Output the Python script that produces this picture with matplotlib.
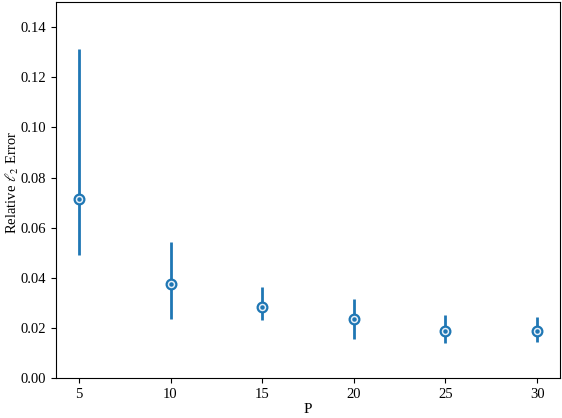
import matplotlib
import matplotlib.pyplot as plt
import numpy as np

matplotlib.use("Agg")

plt.rcParams["font.family"] = ["Liberation Serif", "DejaVu Serif"]
plt.rcParams["mathtext.fontset"] = "stix"

P = [5, 10, 15, 20, 25, 30]
err_mean = [0.0714, 0.0375, 0.0284, 0.0234, 0.0186, 0.0186]
err_low = [0.0491, 0.0235, 0.0231, 0.0154, 0.0141, 0.0144]
err_high = [0.1311, 0.0542, 0.0364, 0.0314, 0.0250, 0.0242]

BLUE = "#1f77b4"

mean = np.array(err_mean)
yerr = [mean - np.array(err_low), np.array(err_high) - mean]

fig, ax = plt.subplots(figsize=(5.62, 4.18), dpi=100)
fig.subplots_adjust(left=0.0996, right=0.9964, top=0.995, bottom=0.0957)

ax.errorbar(P, mean, yerr=yerr, fmt="none", ecolor=BLUE, elinewidth=2)
# ring marker with a dot in the middle
ax.plot(P, mean, "o", color=BLUE, mfc="#e8f0f8", markersize=7,
        markeredgewidth=1.6, zorder=3)
ax.plot(P, mean, "o", color=BLUE, markersize=2.2, zorder=4)

ax.set_ylim(0, 0.15)
ax.set_yticks(np.arange(0, 0.141, 0.02))
ax.set_xticks(P)
ax.set_xlabel("P", fontsize=11, labelpad=2)
ax.set_ylabel(r"Relative $\ell_2$ Error", fontsize=10.5)
ax.yaxis.set_label_coords(-0.07, 0.52)
ax.tick_params(labelsize=10.5)

fig.savefig("out.png", dpi=100)
